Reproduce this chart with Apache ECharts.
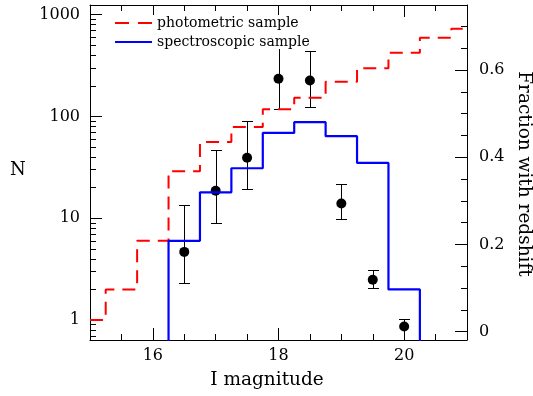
<!DOCTYPE html>
<html>
<head>
<meta charset="utf-8">
<script src="https://cdn.jsdelivr.net/npm/echarts@6/dist/echarts.min.js"></script>
<style>
html,body{margin:0;padding:0;background:#fff;}
#chart{width:533px;height:396px;}
</style>
</head>
<body>
<div id="chart"></div>
<script>
// ---- data ----
var photMag = [15.0, 15.5, 16.0, 16.5, 17.0, 17.5, 18.0, 18.5, 19.0, 19.5, 20.0, 20.5, 21.0];
var photN   = [1, 2, 6, 29, 56, 79, 118, 153, 219, 297, 422, 593, 727];

var specMag = [16.0, 16.5, 17.0, 17.5, 18.0, 18.5, 19.0, 19.5, 20.0, 20.5];
var specN   = [0.1, 6, 18, 31, 69, 88, 64, 35, 2, 0.1];

var fracMag  = [16.5, 17.0, 17.5, 18.0, 18.5, 19.0, 19.5, 20.0];
var fracVal  = [0.183, 0.323, 0.399, 0.580, 0.576, 0.294, 0.119, 0.012];
var fracLow  = [0.111, 0.249, 0.327, 0.511, 0.515, 0.258, 0.100, -0.03];
var fracHigh = [0.291, 0.417, 0.484, 0.680, 0.644, 0.338, 0.141, 0.028];

var xMajorTicks = [16, 18, 20];
var xMinorTicks = [15.5, 16, 16.5, 17, 17.5, 18, 18.5, 19, 19.5, 20, 20.5];
var nMajorTicks = [1, 10, 100, 1000];
var nMinorTicks = [0.7, 0.8, 0.9, 2, 3, 4, 5, 6, 7, 8, 9, 20, 30, 40, 50, 60, 70, 80, 90,
                   200, 300, 400, 500, 600, 700, 800, 900];
var fMajorTicks = [0, 0.2, 0.4, 0.6];
var fMinorTicks = [0, 0.05, 0.1, 0.15, 0.2, 0.25, 0.3, 0.35, 0.4, 0.45, 0.5, 0.55, 0.6, 0.65, 0.7];

// ---- helpers ----
var FONT = 'DejaVu Serif';
var AX = '#000';
function pairs(xs, ys) { return xs.map(function (x, i) { return [x, ys[i]]; }); }

function xAx(pos, major, showLine, showLabel) {
  return {
    type: 'value', min: 15, max: 21, position: pos,
    axisLine: { show: showLine, onZero: false, lineStyle: { color: AX, width: 1 } },
    axisTick: { show: true, inside: true, length: major ? 12 : 6,
                customValues: major ? xMajorTicks : xMinorTicks,
                lineStyle: { color: AX, width: 1 } },
    axisLabel: { show: showLabel, customValues: xMajorTicks, margin: 8,
                 fontFamily: FONT, fontSize: 16, color: '#000',
                 formatter: function (v) { return String(v); } },
    splitLine: { show: false }
  };
}

var chart = echarts.init(document.getElementById('chart'), null, { renderer: 'canvas' });

var option = {
  animation: false,
  backgroundColor: '#fff',
  grid: { left: 90, right: 66, top: 5, bottom: 56, containLabel: false },
  xAxis: [
    xAx('bottom', false, true, true),
    xAx('bottom', true, false, false),
    xAx('top', false, true, false),
    xAx('top', true, false, false)
  ],
  yAxis: [
    { type: 'log', logBase: 10, min: 0.637, max: 1245, position: 'left',
      axisLine: { show: true, onZero: false, lineStyle: { color: AX, width: 1 } },
      axisTick: { show: true, inside: true, length: 12, customValues: nMajorTicks,
                  lineStyle: { color: AX, width: 1 } },
      axisLabel: { show: true, customValues: nMajorTicks, margin: 10,
                   fontFamily: FONT, fontSize: 16, color: '#000',
                   formatter: function (v) { return String(Math.round(v)); } },
      splitLine: { show: false } },
    { type: 'log', logBase: 10, min: 0.637, max: 1245, position: 'left',
      axisLine: { show: false, onZero: false },
      axisTick: { show: true, inside: true, length: 6, customValues: nMinorTicks,
                  lineStyle: { color: AX, width: 1 } },
      axisLabel: { show: false },
      splitLine: { show: false } },
    { type: 'value', min: -0.019, max: 0.749, position: 'right',
      axisLine: { show: true, onZero: false, lineStyle: { color: AX, width: 1 } },
      axisTick: { show: true, inside: true, length: 12, customValues: fMajorTicks,
                  lineStyle: { color: AX, width: 1 } },
      axisLabel: { show: true, customValues: fMajorTicks, margin: 12,
                   fontFamily: FONT, fontSize: 16, color: '#000',
                   formatter: function (v) { return String(+(+v).toFixed(2)); } },
      splitLine: { show: false } },
    { type: 'value', min: -0.019, max: 0.749, position: 'right',
      axisLine: { show: false, onZero: false },
      axisTick: { show: true, inside: true, length: 6, customValues: fMinorTicks,
                  lineStyle: { color: AX, width: 1 } },
      axisLabel: { show: false },
      splitLine: { show: false } }
  ],
  legend: {
    show: true, orient: 'vertical', left: 113, top: 15, padding: [1, 3, 0, 2],
    itemWidth: 37, itemHeight: 14, itemGap: 5,
    backgroundColor: '#fff',
    textStyle: { fontFamily: FONT, fontSize: 14, color: '#000' },
    data: [
      { name: 'photometric sample', icon: 'path://M0,0H14V2H0Z M23,0H37V2H23Z',
        itemStyle: { color: '#ff0000' } },
      { name: 'spectroscopic sample', icon: 'path://M0,0H37V2.2H0Z',
        itemStyle: { color: '#0000ff' } }
    ]
  },
  graphic: [
    { type: 'text', left: 10, top: 161, z: 10,
      style: { text: 'N', fontFamily: FONT, fontSize: 18, fill: '#000' } },
    { type: 'text', x: 267, y: 380, z: 10,
      style: { text: 'I magnitude', fontFamily: FONT, fontSize: 18.5, fill: '#000',
               align: 'center', verticalAlign: 'middle' } },
    { type: 'text', x: 524, y: 174, rotation: -Math.PI / 2, z: 10,
      style: { text: 'Fraction with redshift', fontFamily: FONT, fontSize: 18.5, fill: '#000',
               align: 'center', verticalAlign: 'middle' } }
  ],
  series: [
    { name: 'photometric sample', type: 'line', xAxisIndex: 0, yAxisIndex: 0,
      step: 'middle', symbol: 'none', clip: true,
      lineStyle: { color: '#ff0000', width: 2, type: [13, 8] },
      itemStyle: { color: '#ff0000' },
      data: pairs(photMag, photN) },
    { name: 'spectroscopic sample', type: 'line', xAxisIndex: 0, yAxisIndex: 0,
      step: 'middle', symbol: 'none', clip: true,
      lineStyle: { color: '#0000ff', width: 2.2 },
      itemStyle: { color: '#0000ff' },
      data: pairs(specMag, specN) },
    { name: 'errors', type: 'custom', xAxisIndex: 0, yAxisIndex: 2, clip: true,
      renderItem: function (params, api) {
        var x = api.value(0);
        var p1 = api.coord([x, api.value(2)]);
        var p2 = api.coord([x, api.value(1)]);
        var cx = Math.round(p1[0]) + 0.5;
        var y1 = Math.round(p1[1]) + 0.5, y2 = Math.round(p2[1]) + 0.5;
        var hw = 5.5;
        var st = { stroke: '#000', lineWidth: 1 };
        return { type: 'group', children: [
          { type: 'line', shape: { x1: cx, y1: y1, x2: cx, y2: y2 }, style: st },
          { type: 'line', shape: { x1: cx - hw, y1: y1, x2: cx + hw, y2: y1 }, style: st },
          { type: 'line', shape: { x1: cx - hw, y1: y2, x2: cx + hw, y2: y2 }, style: st }
        ] };
      },
      encode: { x: 0, y: [1, 2] },
      data: fracMag.map(function (m, i) { return [m, fracLow[i], fracHigh[i]]; }) },
    { name: 'fraction', type: 'scatter', xAxisIndex: 0, yAxisIndex: 2,
      symbol: 'circle', symbolSize: 10, itemStyle: { color: '#000', opacity: 1 },
      data: pairs(fracMag, fracVal) }
  ]
};
chart.setOption(option);
</script>
</body>
</html>
